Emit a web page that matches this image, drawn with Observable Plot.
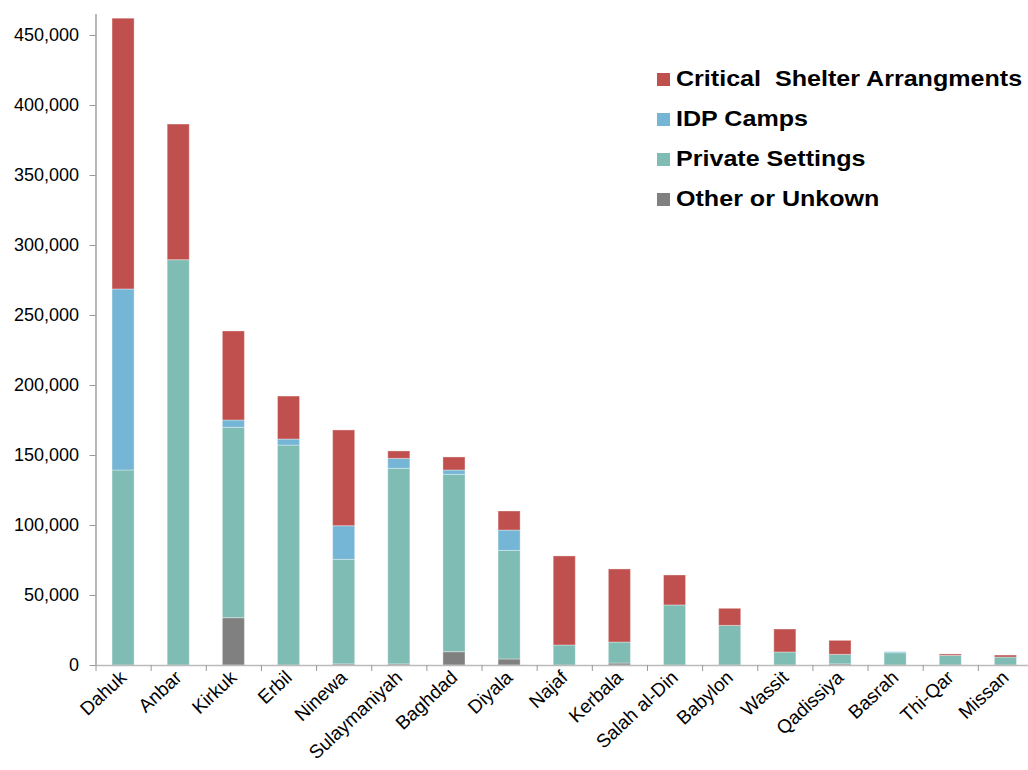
<!DOCTYPE html>
<html>
<head>
<meta charset="utf-8">
<script src="https://cdn.jsdelivr.net/npm/d3@7"></script>
<script src="https://cdn.jsdelivr.net/npm/@observablehq/plot@0.6"></script>
<style>
  html, body { margin: 0; padding: 0; background: #fff; overflow: hidden; }
  #wrap { position: relative; width: 1028px; height: 770px; font-family: "Liberation Sans", Arial, sans-serif; }
  #legend { position: absolute; left: 657px; top: 59px; }
  .row { display: flex; align-items: center; height: 40px; font-weight: bold; font-size: 22px; color: #000; white-space: pre; }
  .sw { width: 13px; height: 13px; margin-right: 6px; flex: none; }
  .row span { display: inline-block; transform: scaleX(1.14); transform-origin: left center; }
</style>
</head>
<body>
<div id="wrap"><div id="legend"></div></div>
<script>
const categories = ["Dahuk","Anbar","Kirkuk","Erbil","Ninewa","Sulaymaniyah","Baghdad","Diyala","Najaf","Kerbala","Salah al-Din","Babylon","Wassit","Qadissiya","Basrah","Thi-Qar","Missan"];
const other    = [0, 0, 33800, 0, 800, 800, 9500, 4300, 0, 1400, 0, 0, 0, 800, 0, 0, 0];
const privateS = [139300, 289500, 136000, 157100, 74700, 139700, 126700, 77600, 14300, 15000, 42900, 28300, 9300, 6800, 8800, 6900, 5700];
const idp      = [129300, 0, 5200, 4300, 24000, 7100, 3100, 14500, 0, 0, 0, 0, 0, 0, 700, 0, 0];
const critical = [193400, 96900, 63600, 30700, 68400, 5300, 9300, 13600, 63600, 52200, 21400, 12200, 16400, 10000, 0, 1000, 1400];
const seriesNames = ["Other or Unkown", "Private Settings", "IDP Camps", "Critical  Shelter Arrangments"];
const seriesColors = ["#808080", "#7EBCB4", "#75B5D6", "#C0504D"];
const yTicks = [0, 50000, 100000, 150000, 200000, 250000, 300000, 350000, 400000, 450000];

const seriesValues = [other, privateS, idp, critical];
const rows = [];
categories.forEach((c, i) => {
  seriesNames.forEach((s, j) => rows.push({region: c, series: s, value: seriesValues[j][i]}));
});

const W = 1028, H = 770, mL = 95.5, mR = -5;
const step = (W - mR - mL) / categories.length;

const chart = Plot.plot({
  width: W,
  height: H,
  marginLeft: mL,
  marginRight: mR,
  marginTop: 14,
  marginBottom: 105,
  style: {fontFamily: "'Liberation Sans', Arial, sans-serif", fontSize: "16px", color: "#000", overflow: "visible"},
  x: {domain: categories, paddingInner: 0.6, paddingOuter: 0.3, round: false, label: null},
  y: {domain: [0, 465000], label: null},
  color: {domain: seriesNames, range: seriesColors},
  marks: [
    Plot.barY(rows, {x: "region", y: "value", fill: "series", order: seriesNames, stroke: "#fff", strokeOpacity: 0.35, strokeWidth: 1}),
    Plot.axisY({ticks: yTicks, tickFormat: d3.format(","), tickSize: 6, tickPadding: 11, stroke: "#999", fontSize: 18, label: null}),
    Plot.ruleX([categories[0]], {x: d => d, dx: -step / 2, y1: 0, y2: 465000, stroke: "#888", strokeWidth: 1.2}),
    Plot.ruleY([0], {stroke: "#bbb", strokeWidth: 1.5}),
    Plot.ruleX(categories, {x: d => d, y1: 0, y2: 0, insetBottom: -6, dx: -step / 2, stroke: "#999"}),
    Plot.axisX({tickSize: 0, tickRotate: -43, tickPadding: 9, fontSize: 19, label: null})
  ]
});
document.getElementById("wrap").prepend(chart);
chart.style.position = "absolute"; chart.style.left = "0"; chart.style.top = "0";

const leg = document.getElementById("legend");
[3, 2, 1, 0].forEach(j => {
  const r = document.createElement("div"); r.className = "row";
  const sw = document.createElement("div"); sw.className = "sw"; sw.style.background = seriesColors[j];
  const t = document.createElement("span"); t.textContent = seriesNames[j];
  r.append(sw, t); leg.append(r);
});
</script>
</body>
</html>
